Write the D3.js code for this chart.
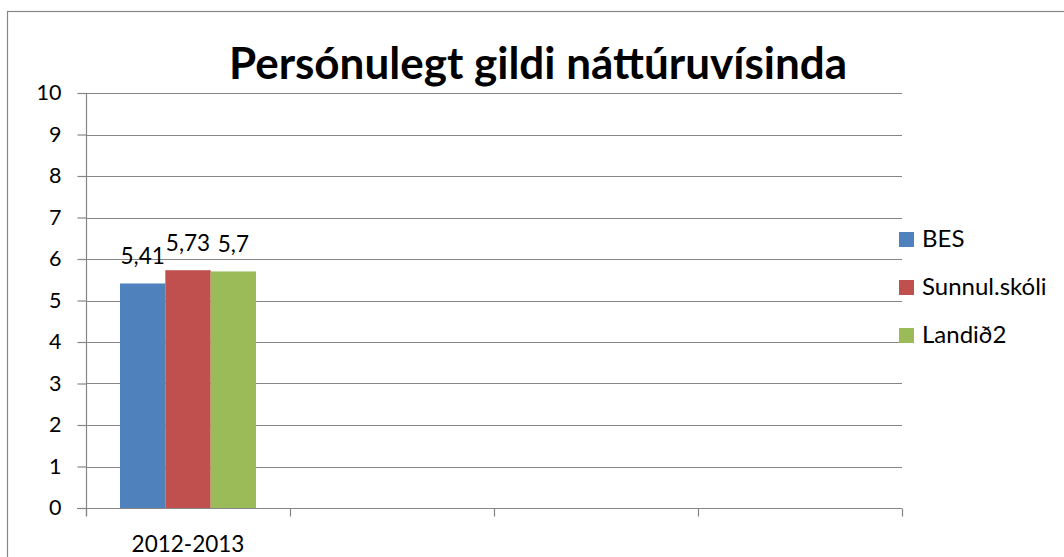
<!DOCTYPE html>
<html>
  <head>
    <meta charset="utf-8">
    <script src="https://cdn.jsdelivr.net/npm/d3@7"></script>
    <style>
      body { margin: 0; background: #fff; }
      text { font-family: Lato, "Open Sans", sans-serif; fill: #000; }
    </style>
  </head>
  <body>
    <div id="chart"></div>
    <script type="text/javascript">
      var width = 1064,
          height = 557,
          title = "Persónulegt gildi náttúruvísinda",
          categories = ["2012-2013", "", "", ""],
          seriesNames = ["BES", "Sunnul.skóli", "Landið2"],
          seriesValues = [[5.41], [5.73], [5.7]],
          valueLabels = [["5,41"], ["5,73"], ["5,7"]],
          yTicks = [0, 1, 2, 3, 4, 5, 6, 7, 8, 9, 10],
          colors = ["#4F81BD", "#C0504D", "#9BBB59"],
          lineColor = "#868686";

      var plot = { left: 86, right: 902, top: 93, bottom: 508 };

      var svg = d3.select("#chart").append("svg")
          .attr("width", width)
          .attr("height", height);

      // outer frame
      svg.append("rect")
          .attr("x", 7.5)
          .attr("y", 11.5)
          .attr("width", width)
          .attr("height", height)
          .attr("fill", "none")
          .attr("stroke", lineColor)
          .attr("stroke-width", 1.2);

      svg.append("text")
          .attr("x", 538)
          .attr("y", 79)
          .attr("text-anchor", "middle")
          .style("font-size", "44px")
          .style("font-weight", "bold")
          .text(title);

      var x = d3.scaleBand()
          .domain(d3.range(categories.length))
          .range([plot.left, plot.right]);

      var y = d3.scaleLinear()
          .domain([0, 10])
          .range([plot.bottom, plot.top]);

      var inner = d3.scaleBand()
          .domain(d3.range(seriesNames.length))
          .range([0, x.bandwidth()])
          .paddingOuter(0.75)
          .paddingInner(0);

      // gridlines
      svg.append("g").selectAll("line")
          .data(yTicks.filter(function(d) { return d > 0; }))
          .enter().append("line")
            .attr("x1", plot.left)
            .attr("x2", plot.right)
            .attr("y1", function(d) { return Math.round(y(d)) + 0.5; })
            .attr("y2", function(d) { return Math.round(y(d)) + 0.5; })
            .attr("stroke", lineColor)
            .attr("stroke-width", 1.2);

      // bars
      var groups = svg.append("g").selectAll(".series")
          .data(seriesValues)
          .enter().append("g")
            .attr("class", "series")
            .attr("fill", function(d, i) { return colors[i]; });

      groups.each(function(vals, s) {
        var g = d3.select(this);
        g.selectAll("rect")
          .data(vals)
          .enter().append("rect")
            .attr("x", function(d, i) { return x(i) + inner(s); })
            .attr("y", function(d) { return y(d); })
            .attr("width", inner.bandwidth())
            .attr("height", function(d) { return y(0) - y(d); });

        g.selectAll("text")
          .data(vals)
          .enter().append("text")
            .attr("x", function(d, i) { return x(i) + inner(s) + inner.bandwidth() / 2; })
            .attr("y", function(d) { return y(d) - 19; })
            .attr("text-anchor", "middle")
            .style("font-size", "22.5px")
            .text(function(d, i) { return valueLabels[s][i]; });
      });

      // y axis
      var yAxis = svg.append("g")
          .attr("transform", "translate(" + (plot.left + 0.5) + ",0)")
          .call(d3.axisLeft(y).tickValues(yTicks).tickSize(9).tickPadding(16).tickFormat(d3.format("d")));

      // x axis, ticks at category boundaries
      var boundaries = d3.range(categories.length + 1).map(function(i) {
        return plot.left + i * x.step();
      });

      var xAxis = svg.append("g")
          .attr("transform", "translate(0," + (plot.bottom + 0.5) + ")");

      xAxis.append("line")
          .attr("x1", plot.left - 9)
          .attr("x2", plot.right)
          .attr("stroke", lineColor)
          .attr("stroke-width", 1.2);

      xAxis.selectAll(".tick")
          .data(boundaries)
          .enter().append("line")
            .attr("class", "tick")
            .attr("x1", function(d) { return Math.round(d) + 0.5; })
            .attr("x2", function(d) { return Math.round(d) + 0.5; })
            .attr("y1", 0)
            .attr("y2", 8)
            .attr("stroke", lineColor)
            .attr("stroke-width", 1.2);

      xAxis.selectAll(".label")
          .data(categories)
          .enter().append("text")
            .attr("class", "label")
            .attr("x", function(d, i) { return x(i) + x.bandwidth() / 2; })
            .attr("y", 43)
            .attr("text-anchor", "middle")
            .style("font-size", "22.5px")
            .text(function(d) { return d; });

      yAxis.select(".domain")
          .attr("d", "M0," + plot.top + "V" + (plot.bottom + 8))
          .attr("stroke", lineColor)
          .attr("stroke-width", 1.2);
      yAxis.selectAll(".tick line").attr("stroke", lineColor).attr("stroke-width", 1.2);
      yAxis.selectAll(".tick text")
          .style("font-size", "21.5px")
          .style("font-family", "Lato, sans-serif")
          .attr("fill", "#000");

      // legend
      var legend = svg.append("g").selectAll(".legend")
          .data(seriesNames)
          .enter().append("g")
            .attr("class", "legend")
            .attr("transform", function(d, i) { return "translate(899," + (232 + i * 48) + ")"; });

      legend.append("rect")
          .attr("width", 15)
          .attr("height", 15)
          .attr("fill", function(d, i) { return colors[i]; });

      legend.append("text")
          .attr("x", 23)
          .attr("y", 15)
          .style("font-size", "24px")
          .text(function(d) { return d; });
    </script>
  </body>
</html>
